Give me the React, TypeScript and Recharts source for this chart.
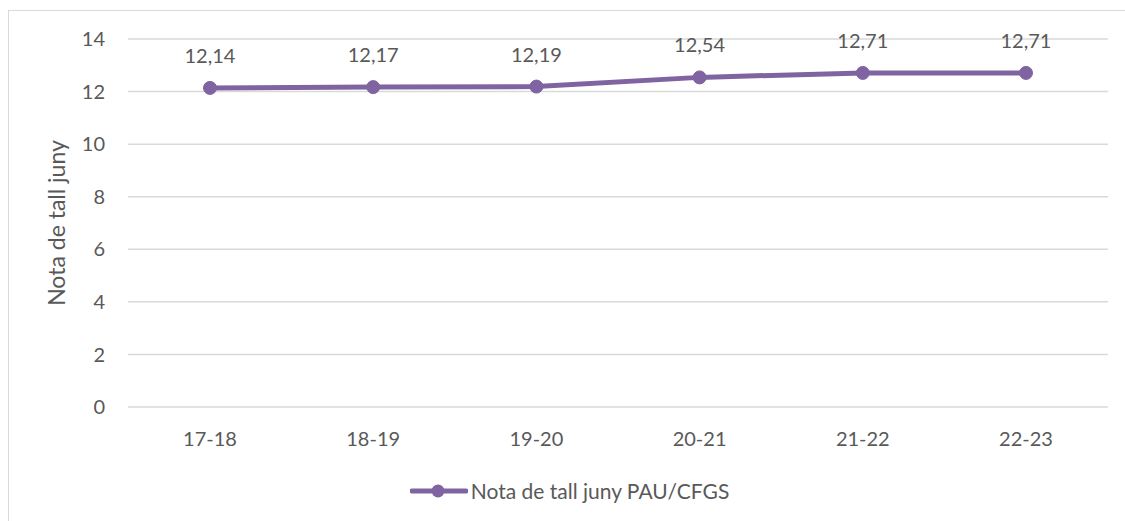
import { LineChart, Line, XAxis, YAxis, CartesianGrid, Legend, LabelList } from 'recharts';

const courses = ['17-18', '18-19', '19-20', '20-21', '21-22', '22-23'];
const cutoffScores = [12.14, 12.17, 12.19, 12.54, 12.71, 12.71];
const yTicks = [0, 2, 4, 6, 8, 10, 12, 14];

const seriesName = 'Nota de tall juny PAU/CFGS';
const yTitle = 'Nota de tall juny';

const PURPLE = '#8064A2';
const TEXT = '#595959';
const GRID = '#d9d9d9';
const FONT = 'Lato, "Open Sans", sans-serif';

const data = courses.map((c, i) => ({ course: c, score: cutoffScores[i] }));

const fmt = (v: any) => Number(v).toFixed(2).replace('.', ',');

function LegendContent() {
    return (
        <div style={{ display: 'flex', justifyContent: 'center', alignItems: 'center', paddingLeft: 14 }}>
            <svg width={58} height={16} style={{ marginRight: 3 }}>
                <line x1={2} y1={8} x2={56} y2={8} stroke={PURPLE} strokeWidth={5} strokeLinecap="round" />
                <circle cx={28} cy={8} r={6.5} fill={PURPLE} />
            </svg>
            <span style={{ fontFamily: FONT, fontSize: 21, color: TEXT }}>{seriesName}</span>
        </div>
    );
}

export default function App() {
    return (
        <div style={{ position: 'absolute', left: 0, top: 0, width: 1125, height: 521, overflow: 'hidden', background: '#fff' }}>
            <div
                style={{
                    position: 'absolute',
                    left: 8,
                    top: 10,
                    width: 1200,
                    height: 600,
                    border: `1.5px solid ${GRID}`,
                }}
            />
            <LineChart
                width={1125}
                height={521}
                data={data}
                margin={{ top: 39, right: 17, left: 0, bottom: 54 }}
                style={{ position: 'absolute', left: 0, top: 0 }}
            >
                <CartesianGrid vertical={false} stroke={GRID} strokeWidth={1.5} />
                <XAxis
                    dataKey="course"
                    height={60}
                    padding={{ left: 82, right: 82 }}
                    axisLine={false}
                    tickLine={false}
                    tickSize={0}
                    tickMargin={25}
                    tick={{ fill: TEXT, fontSize: 20, fontFamily: FONT }}
                />
                <YAxis
                    width={128}
                    domain={[0, 14]}
                    ticks={yTicks}
                    axisLine={false}
                    tickLine={false}
                    tickSize={0}
                    tickMargin={23}
                    tick={{ fill: TEXT, fontSize: 20, fontFamily: FONT }}
                    label={{
                        value: yTitle,
                        angle: -90,
                        position: 'center',
                        dx: -7,
                        fill: TEXT,
                        fontSize: 23,
                        fontFamily: FONT,
                    }}
                />
                <Legend verticalAlign="middle" layout="horizontal" content={<LegendContent />} wrapperStyle={{ top: 478, left: 0, width: 1125 }} />
                <Line
                    type="linear"
                    dataKey="score"
                    name={seriesName}
                    stroke={PURPLE}
                    strokeWidth={5}
                    dot={{ r: 6.5, fill: PURPLE, stroke: PURPLE, strokeWidth: 1 }}
                    activeDot={false}
                    isAnimationActive={false}
                >
                    <LabelList
                        dataKey="score"
                        position="top"
                        offset={25}
                        formatter={fmt}
                        style={{ fill: TEXT, fontSize: 20, fontFamily: FONT }}
                    />
                </Line>
            </LineChart>
        </div>
    );
}
